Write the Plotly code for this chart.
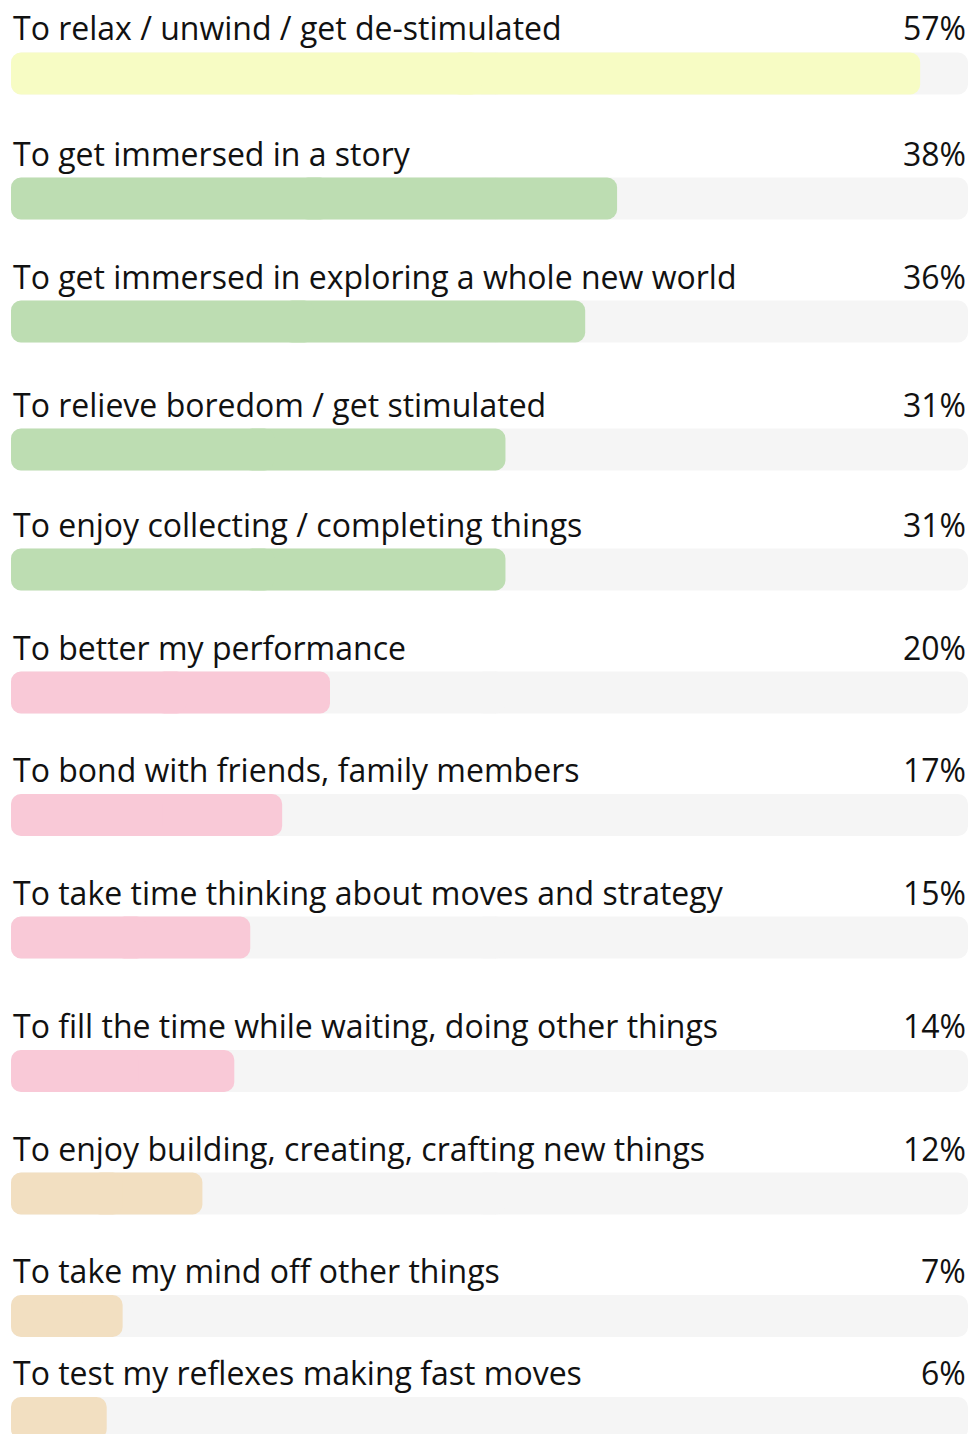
import plotly.graph_objects as go

# Survey: reasons for playing, share of respondents (%)
reasons = [
    "To relax / unwind / get de-stimulated",
    "To get immersed in a story",
    "To get immersed in exploring a whole new world",
    "To relieve boredom / get stimulated",
    "To enjoy collecting / completing things",
    "To better my performance",
    "To bond with friends, family members",
    "To take time thinking about moves and strategy",
    "To fill the time while waiting, doing other things",
    "To enjoy building, creating, crafting new things",
    "To take my mind off other things",
    "To test my reflexes making fast moves",
]
shares = [57, 38, 36, 31, 31, 20, 17, 15, 14, 12, 7, 6]
groups = ["calm", "immersion", "immersion", "immersion", "immersion",
          "social", "social", "social", "social",
          "creative", "creative", "creative"]

# Styling / layout
group_colors = {
    "calm": "#F7FCC4",
    "immersion": "#BDDDB2",
    "social": "#F9C9D7",
    "creative": "#F2DFC1",
}
track_color = "#F5F5F5"
scale_max = 60
fig_w, fig_h = 973, 1434
bar_px = 42
radius = 10
overlap = 1.0  # data units shared by the two halves of a bar
row_top = [52.5, 177.5, 300.5, 428.5, 548.5, 671.5, 794, 916.5, 1050, 1172.5, 1295, 1397]
row_center = [t + bar_px / 2 for t in row_top]
font_family = "'Open Sans', Lato, sans-serif"
font_size = 32
text_color = "#111111"

fig = go.Figure()


def rounded_bar(lengths, colors, hover=None):
    """Horizontal bars rounded at both ends: each bar is drawn as two
    overlapping halves growing outward from its midpoint, so both outer
    ends carry the rounded corners."""
    mids = [v / 2 for v in lengths]
    halves = [
        dict(base=[m - overlap for m in mids], x=[m + overlap for m in mids]),
        dict(base=[m + overlap for m in mids], x=[-(m + overlap) for m in mids]),
    ]
    for h in halves:
        fig.add_trace(go.Bar(
            x=h["x"], base=h["base"], y=row_center, orientation="h",
            width=bar_px,
            marker=dict(color=colors, cornerradius=radius, line=dict(width=0)),
            customdata=hover,
            hovertemplate="%{customdata}<extra></extra>" if hover else None,
            hoverinfo=None if hover else "skip",
            showlegend=False,
        ))


# background tracks spanning the full scale
rounded_bar([scale_max] * len(reasons), track_color)

# value bars
rounded_bar(shares, [group_colors[g] for g in groups],
            hover=[f"{r}: {v}%" for r, v in zip(reasons, shares)])

annotations = []
for label, val, top in zip(reasons, shares, row_top):
    annotations.append(dict(
        x=0, xref="paper", y=top - 1, yref="y", xanchor="left", yanchor="bottom",
        text=label, showarrow=False, align="left",
        font=dict(family=font_family, size=font_size, color=text_color),
    ))
    annotations.append(dict(
        x=1, xref="paper", y=top - 1, yref="y", xanchor="right", yanchor="bottom",
        text=f"{val}%", showarrow=False, align="right",
        font=dict(family=font_family, size=font_size, color=text_color),
    ))

fig.update_layout(
    width=fig_w, height=fig_h,
    margin=dict(l=11, r=5, t=0, b=0, pad=0),
    paper_bgcolor="white", plot_bgcolor="white",
    barmode="overlay",
    xaxis=dict(range=[0, scale_max], visible=False, fixedrange=True),
    yaxis=dict(range=[fig_h, 0], visible=False, fixedrange=True),
    annotations=annotations,
)

fig.write_html("out.html")
